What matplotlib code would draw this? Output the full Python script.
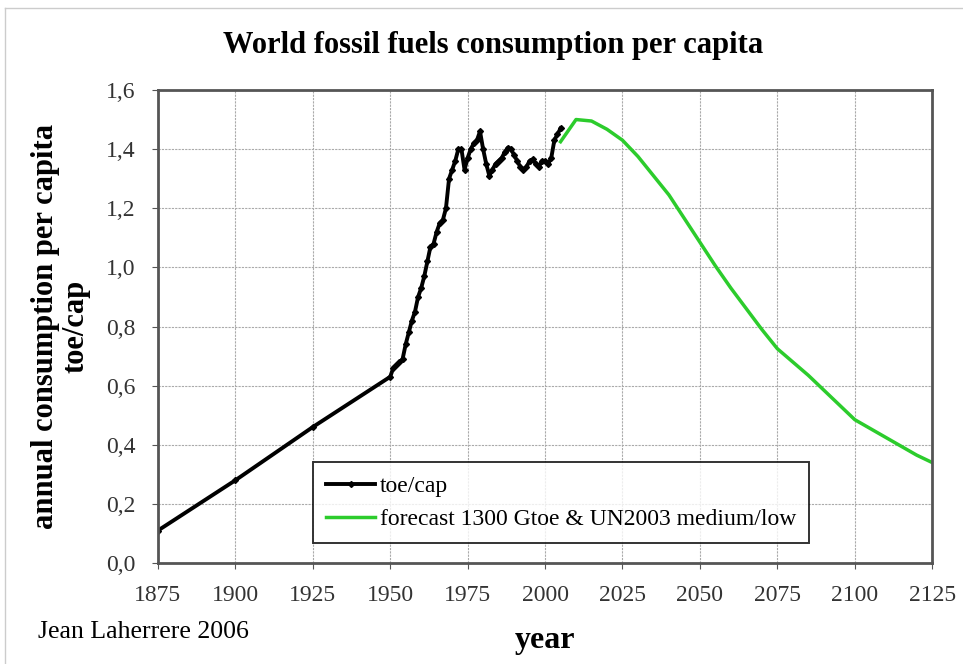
import matplotlib.pyplot as plt
from matplotlib.lines import Line2D
from matplotlib.ticker import FuncFormatter

# Datos historicos (toe/cap)
hist_years = [1875, 1900, 1925] + list(range(1950, 2006))
hist_values = [0.11, 0.28, 0.46,
               0.63, 0.66, 0.67, 0.68, 0.69, 0.74, 0.78, 0.82, 0.85, 0.90,
               0.93, 0.97, 1.02, 1.07, 1.08, 1.12, 1.15, 1.16, 1.20, 1.30,
               1.33, 1.36, 1.40, 1.40, 1.33, 1.37, 1.40, 1.42, 1.43, 1.46,
               1.40, 1.35, 1.31, 1.33, 1.35, 1.36, 1.37, 1.39, 1.405, 1.40,
               1.38, 1.36, 1.34, 1.33, 1.34, 1.36, 1.365, 1.35, 1.34, 1.36,
               1.36, 1.35, 1.37, 1.43, 1.45, 1.47]

# Prevision
fc_years = list(range(2005, 2130, 5))
fc_values = [1.425, 1.50, 1.495, 1.467, 1.43, 1.375, 1.31, 1.245, 1.165, 1.085,
             1.005, 0.93, 0.86, 0.79, 0.725, 0.68, 0.635, 0.585, 0.535, 0.485,
             0.455, 0.425, 0.395, 0.365, 0.34]

x_ticks = list(range(1875, 2150, 25))
y_ticks = [0.0, 0.2, 0.4, 0.6, 0.8, 1.0, 1.2, 1.4, 1.6]

plt.rcParams['font.family'] = ['Liberation Serif', 'DejaVu Serif']

fig = plt.figure(figsize=(9.63, 6.64), dpi=100)
ax = fig.add_axes([0.164, 0.152, 0.804, 0.7125])

ax.plot(hist_years, hist_values, color='black', linewidth=2.8, marker='D',
        markersize=3, label='toe/cap')
ax.plot(fc_years, fc_values, color='#2ccc2c', linewidth=2.5,
        label='forecast 1300 Gtoe & UN2003 medium/low')

ax.set_xlim(1875, 2125)
ax.set_ylim(0, 1.6)
ax.set_xticks(x_ticks)
ax.set_yticks(y_ticks)
ax.yaxis.set_major_formatter(FuncFormatter(lambda v, p: f'{v:.1f}'.replace('.', ',')))
ax.tick_params(labelsize=17, length=4, color='#555555', labelcolor='#333333', pad=12)
ax.grid(True, color='#aaaaaa', linestyle=(0, (2, 1)), linewidth=0.8)
for s in ax.spines.values():
    s.set_color('#555555')
    s.set_linewidth(2)

ax.set_ylabel('annual consumption per capita\ntoe/cap', fontsize=22,
              fontweight='bold', linespacing=1.05)
ax.yaxis.set_label_coords(-0.087, 0.5)
ax.set_xlabel('year', fontsize=23, fontweight='bold')
ax.xaxis.set_label_coords(0.5, -0.134)
fig.text(0.512, 0.932, 'World fossil fuels consumption per capita', ha='center',
         va='center', fontsize=22, fontweight='bold')
fig.text(0.039, 0.048, 'Jean Laherrere 2006', fontsize=18.5, va='center')

leg = ax.legend(loc='lower left', bbox_to_anchor=(0.2, 0.042), fontsize=17,
                frameon=True, fancybox=False, handlelength=2.1,
                handletextpad=0.2, borderpad=0.55, labelspacing=0.5,
                borderaxespad=0)
leg.get_frame().set_edgecolor('black')
leg.get_frame().set_linewidth(1.4)

# marco exterior
fig.add_artist(Line2D([0.005, 1.0], [0.988, 0.988], color='#cccccc', linewidth=1))
fig.add_artist(Line2D([0.005, 0.005], [0.0, 0.988], color='#cccccc', linewidth=1))

plt.savefig('out.png')
